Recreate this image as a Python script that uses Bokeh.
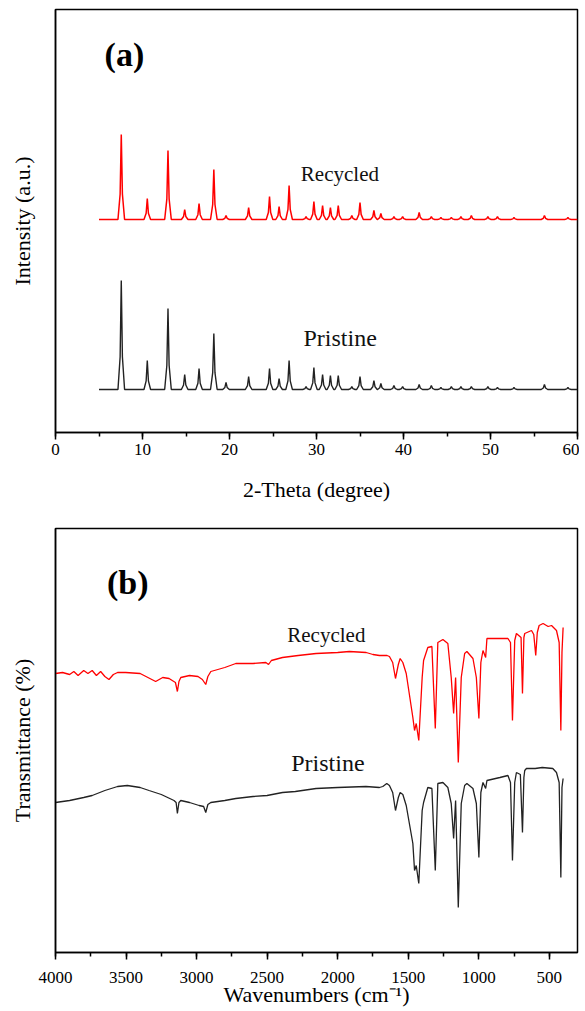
from bokeh.plotting import figure
from bokeh.models import Range1d, SingleIntervalTicker, FixedTicker, Label
from bokeh.layouts import column
from bokeh.embed import file_html
from bokeh.resources import INLINE

FONT = "Liberation Serif"

# ---------------- (a) XRD data ----------------
xrd_peak_theta = [7.56, 10.55, 12.93, 14.85, 16.5, 18.2, 19.6, 22.2, 24.6, 25.7,
                  26.85, 28.8, 29.7, 30.7, 31.6, 32.5, 34.06, 35.0, 36.6, 37.4,
                  38.9, 39.9, 41.8, 43.2, 44.3, 45.5, 46.6, 47.8, 49.7, 50.8,
                  52.7, 56.2, 58.9]
xrd_recycled_height = [85, 21, 69, 10, 16, 50, 4, 12, 23, 13,
                       34, 3, 18, 14, 12, 14, 4, 17, 9, 6,
                       3, 3, 7, 3, 2, 2, 3, 4, 3, 3,
                       2, 4, 2]
xrd_pristine_height = [109, 29, 81, 15, 21, 56, 7, 13, 21, 11,
                       29, 3, 22, 15, 14, 14, 3, 13, 9, 6,
                       4, 3, 5, 4, 2, 3, 3, 3, 3, 2,
                       2, 5, 2]
xrd_recycled_offset = 213
xrd_pristine_offset = 43
xrd_theta_start = 5
xrd_theta_end = 60

# ---------------- (b) FTIR data ----------------
ftir_recycled_wn = [4000, 3950, 3900, 3870, 3840, 3800, 3770, 3740, 3710, 3680,
                    3650, 3621, 3590, 3560, 3503, 3400, 3290, 3240, 3195, 3150,
                    3136, 3125, 3112, 3050, 2990, 2959, 2935, 2920, 2899, 2800,
                    2722, 2600, 2509, 2490, 2470, 2391, 2280, 2153, 2000, 1917,
                    1798, 1750, 1704, 1650, 1633, 1610, 1590, 1570, 1557, 1538,
                    1514, 1467, 1455, 1443, 1425, 1401, 1391, 1361, 1332, 1308,
                    1290, 1254, 1219, 1195, 1178, 1164, 1145, 1124, 1100, 1084,
                    1041, 1017, 999, 985, 970, 951, 942, 850, 793, 775,
                    761, 745, 733, 700, 690, 680, 674, 626, 610, 596,
                    585, 572, 544, 508, 484, 449, 430, 418, 410, 402]
ftir_recycled_t = [279, 280, 278, 281, 277, 282, 279, 282, 277, 281,
                   276, 273, 278, 280, 280, 279, 271, 275, 274, 270,
                   261, 271, 275, 277, 276, 273, 268, 276, 281, 285,
                   289, 289, 290, 288, 292, 295, 297, 299, 300, 301,
                   300, 298, 297, 297, 296, 290, 274, 288, 294, 290,
                   279, 235, 222, 229, 212, 275, 292, 305, 306, 224,
                   310, 313, 309, 275, 239, 275, 190, 275, 299, 301,
                   294, 275, 234, 290, 302, 295, 314, 314, 314, 310,
                   232, 312, 319, 315, 259, 315, 319, 322, 318, 297,
                   320, 327, 329, 326, 327, 322, 310, 222, 300, 325]
ftir_pristine_wn = [4000, 3900, 3800, 3740, 3650, 3560, 3491, 3400, 3337, 3250,
                    3160, 3145, 3136, 3125, 3112, 3050, 2982, 2950, 2935, 2920,
                    2899, 2800, 2722, 2600, 2500, 2391, 2300, 2153, 2000, 1800,
                    1704, 1680, 1652, 1633, 1610, 1590, 1570, 1557, 1538, 1514,
                    1467, 1455, 1443, 1425, 1401, 1391, 1361, 1332, 1308, 1290,
                    1254, 1219, 1195, 1178, 1164, 1145, 1124, 1100, 1084, 1041,
                    1017, 999, 985, 970, 951, 942, 850, 793, 775, 761,
                    745, 733, 705, 690, 680, 674, 662, 600, 550, 475,
                    449, 430, 418, 410, 402]
ftir_pristine_t = [150, 152, 155, 157, 162, 166, 167, 165, 162, 158,
                   152, 150, 139, 150, 152, 150, 147, 146, 140, 148,
                   150, 152, 154, 156, 157, 160, 161, 164, 165, 166,
                   165, 166, 169, 167, 160, 142, 155, 160, 158, 147,
                   109, 82, 87, 69, 142, 150, 165, 164, 82, 169,
                   170, 165, 149, 114, 152, 45, 149, 167, 169, 164,
                   149, 95, 160, 170, 164, 172, 175, 177, 170, 92,
                   170, 180, 178, 120, 175, 182, 184, 184, 185, 184,
                   180, 170, 75, 165, 174]


def xrd_profile(peaks, heights, offset, start, end):
    """Polyline through the read peak apexes, with narrow feet."""
    xs, ys = [start], [offset]
    for p, h in zip(peaks, heights):
        xs += [p - 0.38, p - 0.13, p, p + 0.13, p + 0.38]
        ys += [offset, offset + 0.3 * h, offset + h, offset + 0.3 * h, offset]
    xs.append(end)
    ys.append(offset)
    return xs, ys


def style(p):
    p.xgrid.visible = False
    p.ygrid.visible = False
    p.outline_line_color = "black"
    p.outline_line_width = 1.5
    p.background_fill_color = "white"
    p.border_fill_color = "white"
    for ax in (p.xaxis, p.yaxis):
        ax.axis_line_color = "black"
        ax.axis_line_width = 1.5
        ax.major_tick_line_color = "black"
        ax.major_tick_line_width = 1.5
        ax.minor_tick_line_color = "black"
        ax.minor_tick_line_width = 1.5
        ax.major_label_text_font = FONT
        ax.major_label_text_font_size = "17px"
        ax.major_label_text_color = "black"
        ax.axis_label_text_font = FONT
        ax.axis_label_text_font_size = "22px"
        ax.axis_label_text_font_style = "normal"
        ax.axis_label_text_color = "black"
    p.xaxis.major_tick_in = 0
    p.xaxis.major_tick_out = 7
    p.xaxis.minor_tick_in = 0
    p.xaxis.minor_tick_out = 4
    p.yaxis.ticker = FixedTicker(ticks=[])
    p.yaxis.major_tick_in = 0
    p.yaxis.major_tick_out = 0
    p.yaxis.minor_tick_in = 0
    p.yaxis.minor_tick_out = 0
    p.yaxis.axis_label_standoff = 21


# ---------------- panel (a) ----------------
pa = figure(width=579, height=518, output_backend="svg", toolbar_location=None,
            title=None,
            x_range=Range1d(0, 60), y_range=Range1d(0, 423),
            min_border_left=55, min_border_right=2, min_border_top=9,
            min_border_bottom=86)
style(pa)
pa.xaxis.ticker = SingleIntervalTicker(interval=10, num_minor_ticks=2)
pa.xaxis.axis_label = "2-Theta (degree)"
pa.yaxis.axis_label = "Intensity (a.u.)"
pa.xaxis.major_label_standoff = 4
pa.xaxis.axis_label_standoff = 19

rx, ry = xrd_profile(xrd_peak_theta, xrd_recycled_height, xrd_recycled_offset,
                     xrd_theta_start, xrd_theta_end)
px_, py_ = xrd_profile(xrd_peak_theta, xrd_pristine_height, xrd_pristine_offset,
                       xrd_theta_start, xrd_theta_end)
pa.line(rx, ry, line_color="#ff0000", line_width=1.5)
pa.line(px_, py_, line_color="#222222", line_width=1.4)

pa.add_layout(Label(x=5.64, y=378, text="(a)", text_font=FONT, text_font_size="34px",
                    text_font_style="bold", text_baseline="middle", text_align="left",
                    text_color="black"))
pa.add_layout(Label(x=28.2, y=259, text="Recycled", text_font=FONT, text_font_size="21px",
                    text_baseline="middle", text_align="left", text_color="#111111"))
pa.add_layout(Label(x=28.5, y=95, text="Pristine", text_font=FONT, text_font_size="24px",
                    text_baseline="middle", text_align="left", text_color="#111111"))

# ---------------- panel (b) ----------------
pb = figure(width=579, height=493, output_backend="svg", toolbar_location=None,
            title=None,
            x_range=Range1d(4000, 300), y_range=Range1d(0, 424),
            min_border_left=55, min_border_right=2, min_border_top=10,
            min_border_bottom=59)
style(pb)
pb.xaxis.ticker = SingleIntervalTicker(interval=500, num_minor_ticks=2)
pb.xaxis.axis_label = "Wavenumbers (cm⁻¹)"
pb.yaxis.axis_label = "Transmittance (%)"
pb.xaxis.major_label_standoff = 12
pb.xaxis.axis_label_standoff = -4

pb.line(ftir_recycled_wn, ftir_recycled_t, line_color="#ff0000", line_width=1.3)
pb.line(ftir_pristine_wn, ftir_pristine_t, line_color="#222222", line_width=1.3)

pb.add_layout(Label(x=3635, y=370, text="(b)", text_font=FONT, text_font_size="34px",
                    text_font_style="bold", text_baseline="middle", text_align="left",
                    text_color="black"))
pb.add_layout(Label(x=2357, y=318, text="Recycled", text_font=FONT, text_font_size="21px",
                    text_baseline="middle", text_align="left", text_color="#111111"))
pb.add_layout(Label(x=2329, y=190, text="Pristine", text_font=FONT, text_font_size="24px",
                    text_baseline="middle", text_align="left", text_color="#111111"))

layout = column(pa, pb)
open("out.html", "w").write(file_html(layout, INLINE))
